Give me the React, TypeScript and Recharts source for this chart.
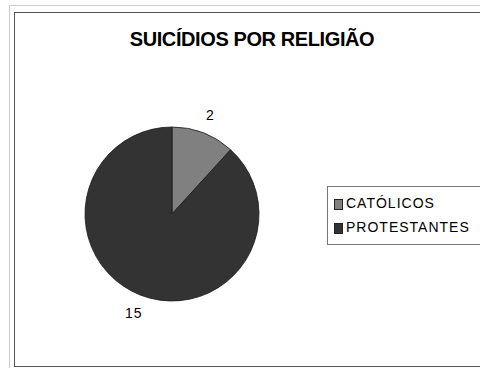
import React from 'react';
import { PieChart, Pie, Cell, Legend } from 'recharts';

const categories = ['CATÓLICOS', 'PROTESTANTES'];
const values = [2, 15];
const colors = ['#808080', '#333333'];

const data = categories.map((name, i) => ({ name, value: values[i], color: colors[i] }));

const FONT = '"Liberation Sans", Arial, sans-serif';
const RAD = Math.PI / 180;

const renderLabel = (props: any) => {
  const { cx, cy, midAngle, outerRadius, value } = props;
  const r = outerRadius + 19;
  const x = cx + r * Math.cos(-midAngle * RAD);
  const y = cy + r * Math.sin(-midAngle * RAD);
  return (
    <text
      x={x}
      y={y}
      textAnchor="middle"
      dominantBaseline="central"
      fill="#000"
      fontSize={14}
      fontFamily={FONT}
      letterSpacing={1}
    >
      {value}
    </text>
  );
};

const renderLegend = () => (
  <div
    style={{
      border: '1px solid #777',
      padding: '4px 0 5px 6px',
      width: 170,
      fontFamily: FONT,
      fontSize: 14,
      letterSpacing: 1,
      color: '#000',
      background: '#fff',
    }}
  >
    {data.map((d) => (
      <div key={d.name} style={{ display: 'flex', alignItems: 'center', height: 24 }}>
        <span
          style={{
            display: 'inline-block',
            width: 7,
            height: 9,
            background: d.color,
            border: '1px solid #222',
            marginRight: 3,
            marginTop: 3,
          }}
        />
        <span>{d.name}</span>
      </div>
    ))}
  </div>
);

export default function App() {
  return (
    <div style={{ position: 'fixed', left: 0, top: 0, width: 480, height: 368, background: '#fff', overflow: 'hidden' }}>
      <div style={{ position: 'absolute', left: 9, top: 5, width: 500, height: 400, border: '1px solid #ccc' }} />
      <div style={{ position: 'absolute', left: 14, top: 12, width: 500, height: 353, border: '1px solid #555' }} />
      <div
        style={{
          position: 'absolute',
          left: 0,
          top: 28,
          width: 504,
          textAlign: 'center',
          fontFamily: FONT,
          fontWeight: 'bold',
          fontSize: 20,
          letterSpacing: -0.4,
          color: '#000',
        }}
      >
        SUICÍDIOS POR RELIGIÃO
      </div>
      <div style={{ position: 'absolute', left: 0, top: 0 }}>
        <PieChart width={480} height={368} margin={{ top: 0, right: 0, bottom: 0, left: 0 }}>
          <Pie
            data={data}
            dataKey="value"
            nameKey="name"
            cx={172}
            cy={214}
            outerRadius={87}
            startAngle={90}
            endAngle={-270}
            label={renderLabel}
            labelLine={false}
            stroke="#1a1a1a"
            strokeWidth={0.8}
            isAnimationActive={false}
          >
            {data.map((d, i) => (
              <Cell key={`cell-${i}`} fill={d.color} />
            ))}
          </Pie>
          <Legend
            content={renderLegend}
            layout="vertical"
            wrapperStyle={{ position: 'absolute', left: 327, top: 186, width: 170 }}
          />
        </PieChart>
      </div>
    </div>
  );
}
